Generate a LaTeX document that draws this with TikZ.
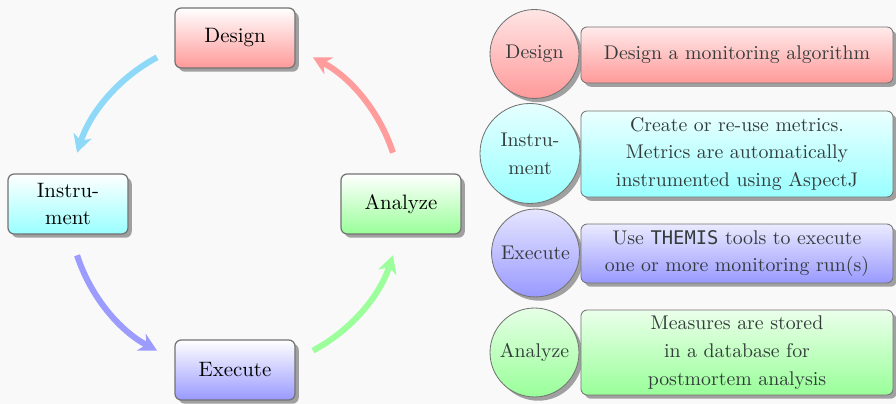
\documentclass[tikz,border=0pt]{standalone}
\usepackage{fontspec}
\newfontfamily\themisfont{DejaVu Sans Mono}[Scale=0.95]
\usetikzlibrary{shadows,arrows.meta}
\definecolor{bgcol}{HTML}{F9F9F9}
\definecolor{arrdesign}{HTML}{FF9C9C}
\definecolor{arrinstr}{HTML}{8ED8F8}
\definecolor{arrexec}{HTML}{9C9CFF}
\definecolor{arranal}{HTML}{9CFF9C}
\definecolor{txtgray}{HTML}{333B3B}
\begin{document}
\begin{tikzpicture}[x=0.48pt,y=0.48pt,
  shadowed/.style={drop shadow={shadow xshift=1.8pt,shadow yshift=-1.8pt,fill=black!60,opacity=0.6}},
  phase/.style={shadowed,draw=black!55,line width=0.6pt,rounded corners=3pt,
    minimum width=57.6pt,minimum height=28.8pt,inner sep=0pt,align=center},
  legendtext/.style={font=\fontsize{9.5}{13.4}\selectfont,text=txtgray,align=center},
  badge/.style={shadowed,circle,draw=black!55,line width=0.4pt,inner sep=0pt,legendtext},
  detail/.style={shadowed,draw=black!55,line width=0.4pt,rounded corners=3pt,
    minimum width=149.8pt,inner sep=0pt,legendtext},
  cycle/.style={line width=2.9pt,-{Stealth[length=8.5pt,width=9pt,inset=2.5pt]}}
]
\fill[bgcol] (0,0) rectangle (896,404);
\useasboundingbox (0,0) rectangle (896,404);

% the cycle of phases
\coordinate (c) at (235,200);
\node[phase,top color=white,bottom color=red!40]   (design)  at (235,366) {Design};
\node[phase,top color=white,bottom color=cyan!40]  (instr)   at (68,200)  {Instru-\\[1.4pt]ment};
\node[phase,top color=white,bottom color=blue!40]  (execute) at (235,34)  {Execute};
\node[phase,top color=white,bottom color=green!40] (analyze) at (401,200) {Analyze};

\draw[cycle,arrinstr]  ([shift={(118:79.7pt)}]c) arc[start angle=118,end angle=162,radius=79.7pt];
\draw[cycle,arrexec]   ([shift={(198:79.7pt)}]c) arc[start angle=198,end angle=242,radius=79.7pt];
\draw[cycle,arranal]   ([shift={(298:79.7pt)}]c) arc[start angle=298,end angle=342,radius=79.7pt];
\draw[cycle,arrdesign] ([shift={(18:79.7pt)}]c)  arc[start angle=18,end angle=62,radius=79.7pt];

% legend: one badge and one description per phase
\node[badge,minimum size=42.7pt,top color=red!10,bottom color=red!40]     (bdesign)  at (534.5,350)  {Design};
\node[badge,minimum size=48pt,top color=cyan!10,bottom color=cyan!40]     (binstr)   at (530,250.5)  {Instru-\\ment};
\node[badge,minimum size=42.2pt,top color=blue!10,bottom color=blue!40]   (bexecute) at (535.5,151)  {Execute};
\node[badge,minimum size=42.7pt,top color=green!10,bottom color=green!40] (banalyze) at (534.5,51.5) {Analyze};

\node[detail,minimum height=26.9pt,top color=red!8,bottom color=red!40]     (ddesign)  at (737,349)   {Design a monitoring algorithm};
\node[detail,minimum height=41.3pt,top color=cyan!8,bottom color=cyan!40]   (dinstr)   at (737,250)   {Create or re-use metrics.\\Metrics are automatically\\instrumented using AspectJ};
\node[detail,minimum height=28.3pt,top color=blue!8,bottom color=blue!40]   (dexecute) at (737,150.5) {Use {\themisfont THEMIS} tools to execute\\one or more monitoring run(s)};
\node[detail,minimum height=40.8pt,top color=green!8,bottom color=green!40] (danalyze) at (737,51.5)  {Measures are stored\\in a database for\\postmortem analysis};
\end{tikzpicture}
\end{document}
